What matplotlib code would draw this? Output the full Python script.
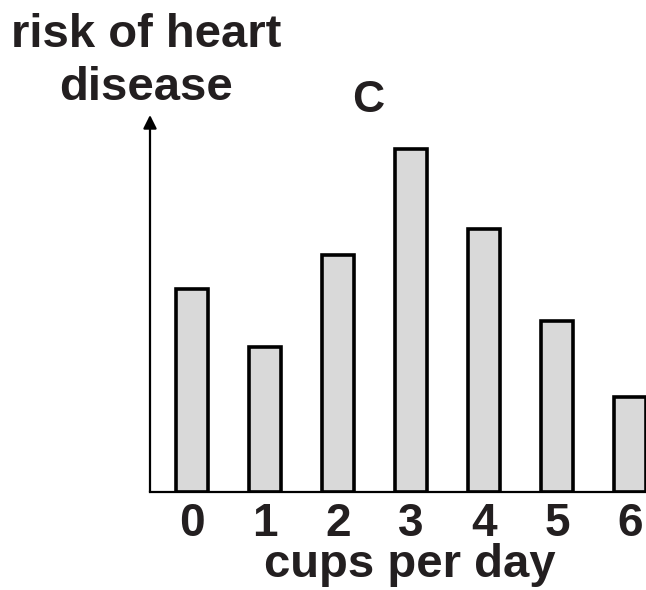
import numpy as np
import matplotlib.pyplot as plt

plt.rcParams['font.family'] = ['Liberation Sans', 'DejaVu Sans']
plt.rcParams['font.weight'] = 'bold'

cups = ['0', '1', '2', '3', '4', '5', '6']
risk = [203, 145, 237, 343, 263, 171, 95]

fig = plt.figure(figsize=(6.46, 5.90), dpi=100)
ax = fig.add_axes([150 / 646, 98 / 590, 496 / 646, 377 / 590])

x = np.arange(len(cups))
ax.bar(x, risk, width=0.44, color='#d9d9d9', edgecolor='black', linewidth=2.6)

ax.set_xlim(-0.575, 6.22)
ax.set_ylim(0, 377)

for s in ['top', 'right', 'left']:
    ax.spines[s].set_visible(False)
ax.spines['bottom'].set_linewidth(1.6)
ax.annotate('', xy=(0, 1), xycoords='axes fraction', xytext=(0, 0),
            arrowprops=dict(arrowstyle='-|>', color='black', lw=1.6,
                            mutation_scale=20, shrinkA=0, shrinkB=0))

ax.set_yticks([])
ax.set_xticks(x)
ax.set_xticklabels(cups, fontsize=33, fontweight='bold', color='#231f20')
ax.tick_params(axis='x', length=0, pad=7)

# x label placed by hand, it sits right of the axes centre in the reference
fig.text(410 / 646, 13 / 590, 'cups per day', ha='center', va='baseline',
         fontsize=34, fontweight='bold', color='#231f20')

fig.text(146 / 646, 1 - 35 / 590, 'risk of heart', ha='center', va='center',
         fontsize=34, fontweight='bold', color='#231f20')
fig.text(146 / 646, 1 - 88 / 590, 'disease', ha='center', va='center',
         fontsize=34, fontweight='bold', color='#231f20')
fig.text(368 / 646, 1 - 100 / 590, 'C', ha='center', va='center',
         fontsize=32, fontweight='bold', color='#231f20')

fig.savefig('out.png', dpi=100)
